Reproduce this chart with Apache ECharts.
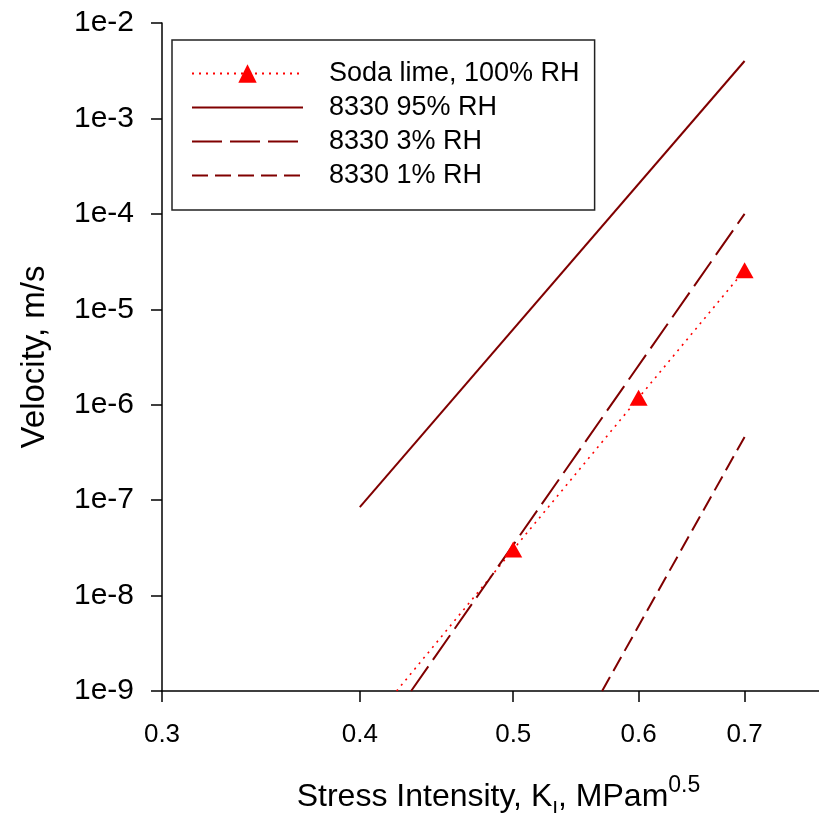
<!DOCTYPE html>
<html>
<head>
<meta charset="utf-8">
<script src="https://cdn.jsdelivr.net/npm/echarts@6/dist/echarts.min.js"></script>
<style>html,body{margin:0;padding:0;background:#fff}#c{width:819px;height:813px}</style>
</head>
<body>
<div id="c"></div>
<script>
// Data (K in MPa·m^0.5, velocity in m/s)
const xTicks = [0.3, 0.4, 0.5, 0.6, 0.7];
const sodaK = [0.422, 0.5, 0.6, 0.7];
const sodaV = [1e-9, 3.04e-8, 1.18e-6, 2.57e-5];
const rh95K = [0.4, 0.7];
const rh95V = [8.45e-8, 4.0e-3];
const rh3K = [0.431, 0.7];
const rh3V = [1e-9, 1.0e-4];
const rh1K = [0.569, 0.7];
const rh1V = [1e-9, 4.6e-7];
const names = ['Soda lime, 100% RH', '8330 95% RH', '8330 3% RH', '8330 1% RH'];

const pairs = (xs, ys) => xs.map((x, i) => [x, ys[i]]);
const sodaData = pairs(sodaK, sodaV).map((p, i) => i === 0 ? { value: p, symbol: 'none' } : p);

const FONT = 'Liberation Sans, Arial, Helvetica, sans-serif';
const chart = echarts.init(document.getElementById('c'));
chart.setOption({
  animation: false,
  backgroundColor: '#fff',
  grid: { left: 162, top: 23, right: 0, bottom: 122, outerBoundsMode: 'none', containLabel: false },
  legend: {
    orient: 'vertical', left: 172, top: 40,
    padding: [20, 15, 21, 19], itemGap: 7,
    itemWidth: 111, itemHeight: 23,
    borderColor: '#222', borderWidth: 1.5,
    textStyle: { fontFamily: FONT, fontSize: 27, color: '#000', padding: [0, 0, 0, 21] },
    data: names.map((n, i) => i === 0 ? { name: n } : { name: n, itemStyle: { opacity: 0 } })
  },
  xAxis: {
    type: 'log', logBase: 10, min: 0.3, max: 0.78,
    name: 'Stress Intensity, K{sub|I}, MPam{sup|0.5}',
    nameLocation: 'middle', nameGap: 83,
    nameTextStyle: {
      fontFamily: FONT, fontSize: 32, color: '#000', lineHeight: 46, padding: [0, 0, 0, 16],
      rich: {
        sub: { fontFamily: FONT, fontSize: 21, color: '#000', verticalAlign: 'bottom', lineHeight: 21 },
        sup: { fontFamily: FONT, fontSize: 23, color: '#000', verticalAlign: 'top', lineHeight: 23 }
      }
    },
    axisLine: { lineStyle: { color: '#000', width: 1.5 } },
    axisTick: { show: true, length: 11, lineStyle: { color: '#000', width: 1.5 }, customValues: xTicks },
    axisLabel: { fontFamily: FONT, fontSize: 26, color: '#000', margin: 31, customValues: xTicks,
      formatter: v => Number(v).toFixed(1) },
    splitLine: { show: false }, minorTick: { show: false }
  },
  yAxis: {
    type: 'log', logBase: 10, min: 1e-9, max: 1e-2, interval: 1,
    name: 'Velocity, m/s', nameLocation: 'middle', nameGap: 111,
    nameTextStyle: { fontFamily: FONT, fontSize: 33, color: '#000' },
    axisLine: { lineStyle: { color: '#000', width: 1.5 } },
    axisTick: { show: true, length: 11, lineStyle: { color: '#000', width: 1.5 } },
    axisLabel: { fontFamily: FONT, fontSize: 30, color: '#000', margin: 28,
      formatter: v => '1e' + Math.round(Math.log10(v)) },
    splitLine: { show: false }, minorTick: { show: false }
  },
  series: [
    {
      name: names[0], type: 'line', data: sodaData,
      symbol: 'triangle', symbolSize: [18, 16],
      itemStyle: { color: '#ff0000' },
      lineStyle: { color: '#ff0000', width: 1.6, type: [2, 5] }
    },
    {
      name: names[1], type: 'line', data: pairs(rh95K, rh95V), symbol: 'none',
      itemStyle: { color: '#800000' },
      lineStyle: { color: '#800000', width: 2 }
    },
    {
      name: names[2], type: 'line', data: pairs(rh3K, rh3V), symbol: 'none',
      itemStyle: { color: '#800000' },
      lineStyle: { color: '#800000', width: 2, type: [30, 8] }
    },
    {
      name: names[3], type: 'line', data: pairs(rh1K, rh1V), symbol: 'none',
      itemStyle: { color: '#800000' },
      lineStyle: { color: '#800000', width: 2, type: [16, 7] }
    }
  ]
});
</script>
</body>
</html>
